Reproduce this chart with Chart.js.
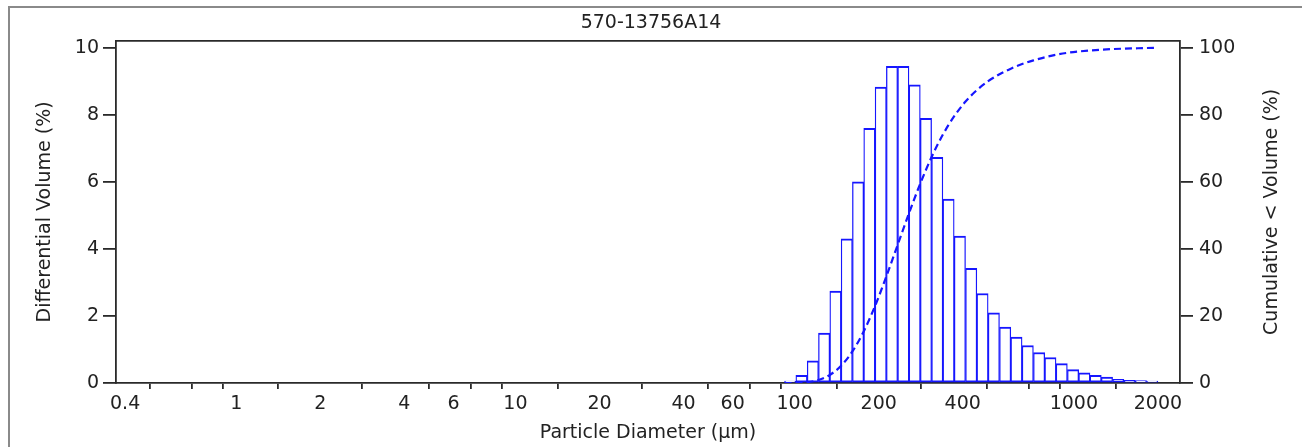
<!DOCTYPE html>
<html>
<head>
<meta charset="utf-8">
<script src="https://cdn.jsdelivr.net/npm/chart.js@4.4.1/dist/chart.umd.min.js"></script>
<style>
  html, body { margin: 0; padding: 0; background: #fff; }
  #wrap { position: relative; width: 1302px; height: 447px; }
  #frame { position: absolute; left: 8px; top: 6px; width: 1300px; height: 447px;
           border-left: 2px solid #8a8a8a; border-top: 2px solid #8a8a8a; }
  #chart { position: absolute; left: 0; top: 0; }
</style>
</head>
<body>
<div id="wrap">
  <div id="frame"></div>
  <canvas id="chart" width="1302" height="447"></canvas>
</div>
<script>
const chartTitle = '570-13756A14'

// bin centres (µm) and differential volume (%)
const diameters = [96.4, 105.8, 116.2, 127.5, 140.0, 153.7, 168.7, 185.2, 203.4, 223.2,
  245.1, 269.1, 295.4, 324.2, 355.9, 390.7, 428.9, 470.9, 517.0, 567.5,
  623.0, 683.9, 750.8, 824.3, 904.8, 993.4, 1090.5, 1197.2, 1314.2, 1442.8,
  1583.9, 1738.8, 1908.8]
const diffVolume = [0.02, 0.23, 0.66, 1.49, 2.74, 4.30, 6.00, 7.60, 8.83, 9.45,
  9.45, 8.90, 7.90, 6.73, 5.49, 4.38, 3.42, 2.67, 2.09, 1.67,
  1.37, 1.12, 0.91, 0.76, 0.58, 0.40, 0.30, 0.23, 0.18, 0.11,
  0.08, 0.07, 0.03]

// bin upper edges (µm) and cumulative < volume (%)
const edgeDiameters = [92.0, 101.0, 110.9, 121.7, 133.6, 146.7, 161.0, 176.8, 194.1, 213.0,
  233.9, 256.8, 281.9, 309.4, 339.7, 372.9, 409.4, 449.4, 493.4, 541.6,
  594.6, 652.7, 716.6, 786.7, 863.6, 948.1, 1040.8, 1142.6, 1254.3, 1377.0,
  1511.7, 1659.5, 1821.8, 2000]
const cumVolume = [0, 0.02, 0.25, 0.91, 2.40, 5.13, 9.42, 15.40, 22.98, 31.79,
  41.22, 50.65, 59.53, 67.41, 74.12, 79.60, 83.97, 87.38, 90.04, 92.13,
  93.79, 95.16, 96.27, 97.18, 97.94, 98.52, 98.92, 99.22, 99.45, 99.63,
  99.76, 99.86, 99.95, 100]

// axis ticks
const xTicks = [0.4, 0.6, 0.8, 1, 2, 4, 6, 8, 10, 20, 40, 60, 80, 100, 200, 400, 600, 800, 1000, 2000]
const xLabels = [0.4, 1, 2, 4, 6, 10, 20, 40, 60, 100, 200, 400, 1000, 2000]
const leftTicks = [0, 2, 4, 6, 8, 10]
const rightTicks = [0, 20, 40, 60, 80, 100]

const blue = '#1616ff'
const axisColor = '#2a2a2a'
const textColor = '#222'

Chart.defaults.font.family = "'DejaVu Sans', sans-serif"
Chart.defaults.font.size = 19
Chart.defaults.color = textColor

// top line of the plot box + right axis title (reads bottom to top)
const extras = {
  id: 'extras',
  afterDraw (chart) {
    const ctx = chart.ctx
    const a = chart.chartArea
    ctx.save()
    ctx.strokeStyle = axisColor
    ctx.lineWidth = 1.8
    ctx.beginPath()
    ctx.moveTo(a.left, a.top)
    ctx.lineTo(a.right, a.top)
    ctx.stroke()

    const s = chart.scales.y2
    ctx.translate(s.right - 30, (s.top + s.bottom) / 2)
    ctx.rotate(-Math.PI / 2)
    ctx.fillStyle = textColor
    ctx.font = "19px 'DejaVu Sans', sans-serif"
    ctx.textAlign = 'center'
    ctx.textBaseline = 'middle'
    ctx.fillText('Cumulative < Volume (%)', 0, 0)
    ctx.restore()
  }
}

const gridOpts = (len) => ({
  display: true, drawOnChartArea: false, drawTicks: true,
  tickLength: len, color: axisColor, lineWidth: 1.8
})

new Chart(document.getElementById('chart'), {
  type: 'bar',
  data: {
    datasets: [{
      type: 'line',
      order: 0,
      data: edgeDiameters.map((d, i) => ({x: d, y: cumVolume[i]})),
      xAxisID: 'x',
      yAxisID: 'y2',
      borderColor: blue,
      borderWidth: 2.2,
      borderDash: [7, 4],
      pointRadius: 0,
      cubicInterpolationMode: 'monotone',
      fill: false
    }, {
      type: 'bar',
      order: 1,
      data: diameters.map((d, i) => ({x: d, y: diffVolume[i]})),
      xAxisID: 'x',
      yAxisID: 'y',
      backgroundColor: '#ffffff',
      borderColor: blue,
      borderWidth: {top: 2, left: 1.3, right: 1.3, bottom: 2},
      borderSkipped: false,
      barPercentage: 1,
      categoryPercentage: 1,
      minBarLength: 2
    }]
  },
  options: {
    responsive: false,
    animation: false,
    layout: {padding: 0},
    plugins: {
      legend: {display: false},
      tooltip: {enabled: false},
      title: {
        display: true,
        text: chartTitle,
        color: textColor,
        font: {size: 19, weight: 'normal'},
        padding: {top: 12, bottom: 6}
      }
    },
    scales: {
      x: {
        type: 'logarithmic',
        position: 'bottom',
        min: 0.371,
        max: 2400,
        afterBuildTicks: (scale) => { scale.ticks = xTicks.map(v => ({value: v})) },
        afterFit: (scale) => { scale.height = 64 },
        ticks: {
          autoSkip: false, maxRotation: 0, minRotation: 0, padding: 4,
          callback: (v) => xLabels.includes(v) ? String(v) : ''
        },
        grid: gridOpts(6),
        border: {display: true, color: axisColor, width: 1.8},
        title: {display: true, text: 'Particle Diameter (µm)', padding: {top: 0, bottom: 3}}
      },
      y: {
        type: 'linear',
        position: 'left',
        min: 0,
        max: 10.21,
        afterBuildTicks: (scale) => { scale.ticks = leftTicks.map(v => ({value: v})) },
        afterFit: (scale) => { scale.width = 116 },
        ticks: {padding: 4},
        grid: gridOpts(13),
        border: {display: true, color: axisColor, width: 1.8},
        title: {display: true, text: 'Differential Volume (%)', padding: {top: 34, bottom: 0}}
      },
      y2: {
        type: 'linear',
        position: 'right',
        min: 0,
        max: 102.1,
        afterBuildTicks: (scale) => { scale.ticks = rightTicks.map(v => ({value: v})) },
        afterFit: (scale) => { scale.width = 122 },
        ticks: {padding: 6},
        grid: gridOpts(13),
        border: {display: true, color: axisColor, width: 1.8}
      }
    }
  },
  plugins: [extras]
})
</script>
</body>
</html>
